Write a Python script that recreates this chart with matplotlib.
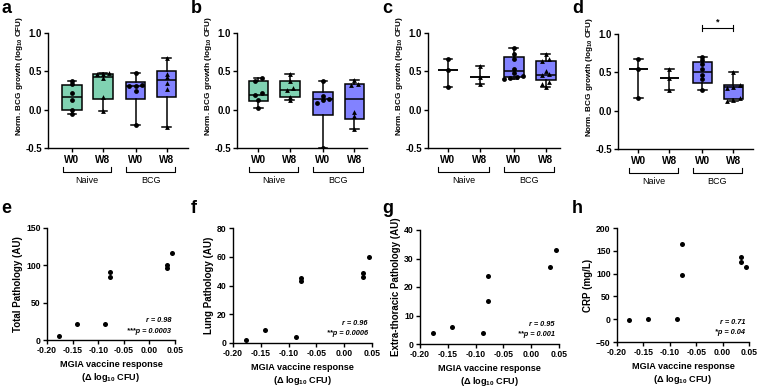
import matplotlib
matplotlib.use("Agg")
import matplotlib.pyplot as plt
import matplotlib.transforms as mtransforms

plt.rcParams['font.family'] = ['Liberation Sans', 'DejaVu Sans']
plt.rcParams['font.weight'] = 'bold'
plt.rcParams['mathtext.default'] = 'regular'
plt.rcParams['axes.linewidth'] = 1.0

W, H = 760, 389

# ---- data: top row (box plots) ----
tick_labels = ['W0', 'W8', 'W0', 'W8']
cohorts = ['Naive', 'BCG']
box_colors = ['#80D2B2', '#80D2B2', '#8282FF', '#8282FF']
positions = [1, 2, 3.05, 4.05]

a_points = [[0.38, 0.34, 0.22, 0.12, 0.0, -0.05],
            [0.48, 0.47, 0.46, 0.41, 0.17, -0.02],
            [0.48, 0.32, 0.31, 0.31, 0.25, -0.20],
            [0.67, 0.46, 0.42, 0.35, 0.27, -0.23]]
a_q1 = [0.0, 0.135, 0.135, 0.16]
a_med = [0.165, 0.43, 0.31, 0.39]
a_q3 = [0.32, 0.46, 0.36, 0.51]

b_points = [[0.41, 0.38, 0.215, 0.19, 0.13, 0.02],
            [0.46, 0.37, 0.28, 0.26, 0.16, 0.12],
            [0.37, 0.18, 0.14, 0.12, 0.09, -0.50],
            [0.39, 0.34, 0.32, -0.03, -0.08, -0.25]]
b_q1 = [0.115, 0.16, -0.07, -0.12]
b_med = [0.195, 0.26, 0.14, 0.14]
b_q3 = [0.38, 0.37, 0.23, 0.34]

c_points = [[0.66, 0.52, 0.30],
            [0.57, 0.42, 0.34],
            [0.81, 0.72, 0.66, 0.53, 0.48, 0.44, 0.42, 0.41, 0.40],
            [0.73, 0.66, 0.63, 0.50, 0.46, 0.45, 0.36, 0.33, 0.29]]
c_q1 = [0.52, 0.42, 0.43, 0.39]
c_med = [0.52, 0.42, 0.51, 0.45]
c_q3 = [0.52, 0.42, 0.69, 0.64]

d_points = [[0.67, 0.54, 0.16],
            [0.54, 0.42, 0.27],
            [0.70, 0.66, 0.61, 0.55, 0.46, 0.41, 0.27],
            [0.50, 0.33, 0.31, 0.30, 0.17, 0.14, 0.12]]
d_q1 = [0.54, 0.42, 0.36, 0.15]
d_med = [0.54, 0.42, 0.51, 0.31]
d_q3 = [0.54, 0.42, 0.64, 0.33]

# ---- data: bottom row (correlations) ----
mgia = [-0.177, -0.142, -0.087, -0.077, -0.077, 0.034, 0.034, 0.045]
total_path = [6, 22, 22, 91, 84, 100, 97, 117]
lung_path = [2, 9, 4, 45, 43, 49, 46, 60]
mgia_g = [-0.177, -0.142, -0.087, -0.077, -0.077, 0.034, 0.045]
extra_path = [4, 6, 4, 24, 15, 27, 33]
crp = [-1, 0, 0, 165, 97, 137, 125, 114]


def px_axes(fig, left, right, top, bottom):
    ax = fig.add_axes([left / W, 1 - bottom / H, (right - left) / W, (bottom - top) / H])
    ax.px_size = (right - left, bottom - top)
    return ax


def spread(vals, pos, tol=0.035, step=0.2):
    # simple beeswarm: spread points with close values sideways
    order = sorted(range(len(vals)), key=lambda i: vals[i])
    xs = [pos] * len(vals)
    clusters = []
    for i in order:
        if clusters and abs(vals[i] - vals[clusters[-1][-1]]) < tol:
            clusters[-1].append(i)
        else:
            clusters.append([i])
    for cl in clusters:
        n = len(cl)
        for k, i in enumerate(cl):
            xs[i] = pos + (k - (n - 1) / 2) * step
    return xs


def box_panel(ax, points, q1, med, q3, xlim):
    stats = []
    for p, lo, m, hi in zip(points, q1, med, q3):
        stats.append(dict(med=m, q1=lo, q3=hi, whislo=min(p), whishi=max(p), fliers=[]))
    bp = ax.bxp(stats, positions=positions, widths=0.62, capwidths=0.28,
                patch_artist=True, showfliers=False,
                boxprops=dict(linewidth=1.1, edgecolor='black'),
                medianprops=dict(color='black', linewidth=1.1),
                whiskerprops=dict(linewidth=1.1),
                capprops=dict(linewidth=1.1))
    for patch, col in zip(bp['boxes'], box_colors):
        patch.set_facecolor(col)
    for i, p in enumerate(points):
        marker = 'o' if i % 2 == 0 else '^'
        ax.scatter(spread(p, positions[i]), p, marker=marker, s=12, color='black', zorder=5, linewidths=0)
    ax.set_xlim(*xlim)
    ax.set_ylim(-0.5, 1.0)
    ax.set_yticks([-0.5, 0.0, 0.5, 1.0])
    ax.set_yticklabels(['-0.5', '0.0', '0.5', '1.0'])
    ax.set_xticks(positions)
    ax.set_xticklabels(tick_labels, fontsize=7.2, fontweight='bold')
    ax.tick_params(axis='y', labelsize=6.9, length=3, width=1, pad=1.5)
    ax.tick_params(axis='x', length=3, width=1, pad=2)
    for s in ['top', 'right']:
        ax.spines[s].set_visible(False)
    ax.set_ylabel('Norm. BCG growth (log$_{10}$ CFU)', fontsize=5.9, fontweight='bold')
    wpx, hpx = ax.px_size
    ax.yaxis.set_label_coords(-23 / wpx, 0.63)
    trans = mtransforms.blended_transform_factory(ax.transData, ax.transAxes)
    for g, name in enumerate(cohorts):
        x0 = positions[2 * g] - 0.3
        x1 = positions[2 * g + 1] + 0.27
        ax.plot([x0, x0, x1, x1], [-0.165, -0.21, -0.21, -0.165], color='black',
                linewidth=0.8, transform=trans, clip_on=False)
        ax.text((x0 + x1) / 2, -0.285, name, transform=trans, ha='center', va='center',
                fontsize=6.5, fontweight='normal')


def scatter_panel(ax, x, y, yticks, r_txt, p_txt, ylabel):
    ax.scatter(x, y, s=13, color='black', zorder=5, linewidths=0, clip_on=False)
    ax.set_xlim(-0.2, 0.05)
    ax.set_xticks([-0.20, -0.15, -0.10, -0.05, 0.00, 0.05])
    ax.set_xticklabels(['-0.20', '-0.15', '-0.10', '-0.05', '0.00', '0.05'])
    ax.set_ylim(yticks[0], yticks[-1])
    ax.set_yticks(yticks)
    ax.tick_params(labelsize=6.2, length=3, width=1, pad=1.5)
    for s in ['top', 'right']:
        ax.spines[s].set_visible(False)
    ax.set_ylabel(ylabel, fontsize=7.0, fontweight='bold', labelpad=2)
    ax.set_xlabel('MGIA vaccine response\n(Δ log$_{10}$ CFU)', fontsize=6.6,
                  fontweight='bold', labelpad=3.5, linespacing=1.2)
    ax.text(0.97, 0.17, r_txt, transform=ax.transAxes, ha='right', va='center',
            fontsize=5.3, style='italic', fontweight='bold')
    ax.text(0.97, 0.08, p_txt, transform=ax.transAxes, ha='right', va='center',
            fontsize=5.3, style='italic', fontweight='bold')


fig = plt.figure(figsize=(W / 100, H / 100), dpi=100)
fig.patch.set_facecolor('white')

ax_a = px_axes(fig, 48, 188, 33, 148)
box_panel(ax_a, a_points, a_q1, a_med, a_q3, (0.23, 4.74))
ax_b = px_axes(fig, 237, 367, 33, 148)
box_panel(ax_b, b_points, b_q1, b_med, b_q3, (0.32, 4.45))
ax_c = px_axes(fig, 428, 560, 33, 148)
box_panel(ax_c, c_points, c_q1, c_med, c_q3, (0.375, 4.5))
ax_d = px_axes(fig, 618, 753, 34, 149)
box_panel(ax_d, d_points, d_q1, d_med, d_q3, (0.35, 4.68))

# significance bracket in d
ax_d.plot([positions[2], positions[3]], [1.075, 1.075], color='black', linewidth=0.8, clip_on=False)
for xp in positions[2:]:
    ax_d.plot([xp, xp], [1.035, 1.115], color='black', linewidth=0.8, clip_on=False)
ax_d.text((positions[2] + positions[3]) / 2, 1.1, '*', ha='center', va='bottom', fontsize=6.5)

ax_e = px_axes(fig, 47, 175, 228, 340)
scatter_panel(ax_e, mgia, total_path, [0, 50, 100, 150], 'r = 0.98', '***p = 0.0003', 'Total Pathology (AU)')
ax_f = px_axes(fig, 233, 372, 228, 343)
scatter_panel(ax_f, mgia, lung_path, [0, 20, 40, 60, 80], 'r = 0.96', '**p = 0.0006', 'Lung Pathology (AU)')
ax_g = px_axes(fig, 420, 559, 230, 344)
scatter_panel(ax_g, mgia_g, extra_path, [0, 10, 20, 30, 40], 'r = 0.95', '**p = 0.001', 'Extra-thoracic Pathology (AU)')
ax_h = px_axes(fig, 617, 749, 228, 342)
scatter_panel(ax_h, mgia, crp, [-50, 0, 50, 100, 150, 200], 'r = 0.71', '*p = 0.04', 'CRP (mg/L)')

for letter, (x, y) in zip('abcdefgh', [(1, 13), (191, 13), (382, 13), (572, 13),
                                         (1, 213), (191, 213), (382, 213), (572, 213)]):
    fig.text(x / W, 1 - y / H, letter, fontsize=13, fontweight='bold', ha='left', va='baseline')

fig.savefig('out.png', dpi=100)
